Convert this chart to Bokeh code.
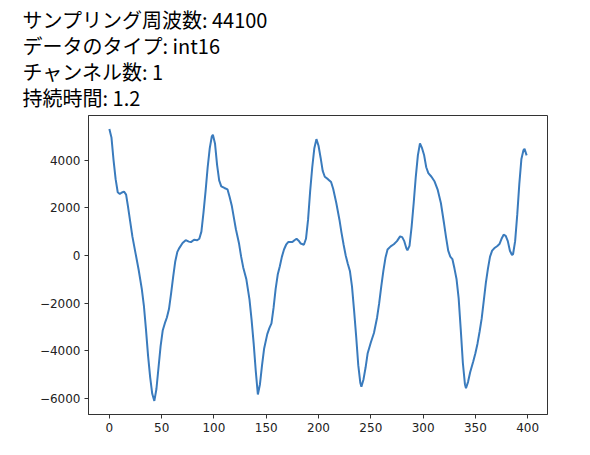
from bokeh.plotting import figure
from bokeh.models import Range1d, FixedTicker, Title
from bokeh.embed import file_html
from bokeh.resources import INLINE

# Waveform samples (sample index, amplitude)
sample_idx = [0, 2, 4, 6, 8, 10, 12, 14, 16, 18, 20, 22, 25, 28, 31, 33, 35, 37, 39, 41,
              43, 45, 47, 49, 51, 53, 55, 57, 59, 61, 63, 65, 67, 70, 73, 76, 78, 81, 84, 86,
              88, 90, 92, 94, 96, 98, 99, 101, 103, 105, 107, 110, 113, 115, 117, 119, 121, 124, 126, 128,
              131, 134, 136, 138, 140, 142, 144, 146, 148, 151, 153, 155, 157, 159, 161, 163, 165, 167, 169, 171,
              175, 177, 179, 181, 183, 186, 188, 190, 192, 194, 196, 198, 200, 202, 204, 206, 209, 212, 214, 217,
              220, 222, 224, 226, 228, 230, 232, 234, 236, 238, 240, 241, 243, 245, 247, 250, 253, 256, 258, 260,
              262, 264, 266, 269, 272, 275, 278, 280, 282, 284, 285, 287, 289, 291, 293, 295, 297, 299, 301, 303,
              305, 308, 311, 314, 317, 320, 322, 324, 326, 328, 330, 332, 334, 336, 338, 340, 341, 343, 345, 348,
              350, 352, 354, 356, 358, 360, 362, 364, 366, 368, 371, 373, 375, 377, 379, 381, 383, 385, 386, 388,
              390, 392, 394, 396, 397, 399]
amplitude = [5300, 4950, 4000, 3200, 2650, 2580, 2640, 2680, 2550, 2000, 1400, 800, 100, -600, -1400, -2100, -3100, -4200, -5100, -5800,
             -6100, -5600, -4700, -3800, -3150, -2850, -2600, -2250, -1600, -900, -250, 150, 320, 520, 640, 580, 560, 660, 640, 700,
             1000, 1800, 2700, 3700, 4500, 5000, 5060, 4700, 3800, 3150, 2900, 2830, 2770, 2450, 2100, 1600, 1100, 500, -50, -500,
             -1000, -1850, -2700, -3700, -4850, -5830, -5400, -4600, -3900, -3300, -3050, -2850, -2200, -1400, -800, -450, -50, 250, 450, 560,
             560, 640, 700, 620, 500, 450, 700, 1500, 2700, 3700, 4500, 4880, 4600, 4100, 3550, 3300, 3200, 3080, 2800, 2200,
             1500, 950, 450, 0, -350, -650, -1300, -2300, -3400, -4600, -5350, -5500, -5200, -4700, -4100, -3650, -3250, -2600, -2000, -1300,
             -650, -100, 250, 380, 470, 600, 800, 770, 600, 300, 220, 400, 1200, 2200, 3300, 4200, 4700, 4500, 4200, 3700,
             3450, 3300, 3100, 2750, 2200, 1350, 750, 200, -50, -150, -550, -1000, -1800, -3100, -4500, -5400, -5570, -5300, -4900, -4440,
             -4100, -3700, -3200, -2650, -1900, -1150, -550, -50, 200, 300, 400, 480, 700, 870, 820, 600, 200, 20, 50, 600,
             1700, 3000, 4050, 4420, 4470, 4200]

info_lines = ["サンプリング周波数: 44100", "データのタイプ: int16", "チャンネル数: 1", "持続時間: 1.2"]
x_ticks = [0, 50, 100, 150, 200, 250, 300, 350, 400]
y_ticks = [-6000, -4000, -2000, 0, 2000, 4000]

p = figure(width=574, height=439, output_backend="svg", toolbar_location=None,
           x_range=Range1d(-19.95, 418.95), y_range=Range1d(-6670, 5870),
           min_border_left=88, min_border_right=27, min_border_top=0, min_border_bottom=25)
p.title.visible = False

p.add_layout(Title(text="\n".join(info_lines), align="left", text_font="Noto Sans CJK JP",
                   text_font_size="20px", text_font_style="normal", text_color="black",
                   text_line_height=0.9, offset=-66, standoff=6), "above")

p.line(sample_idx, amplitude, line_color="#3a7bbd", line_width=2)

p.grid.visible = False
p.outline_line_color = "#333333"
p.outline_line_width = 1
for ax in (p.xaxis[0], p.yaxis[0]):
    ax.axis_line_color = "#333333"
    ax.major_tick_line_color = "#333333"
    ax.major_tick_out = 4
    ax.major_tick_in = 0
    ax.minor_tick_line_color = None
    ax.major_label_text_font = "DejaVu Sans"
    ax.major_label_text_font_size = "12px"
    ax.major_label_text_color = "#222222"
    ax.major_label_standoff = 4
p.xaxis[0].ticker = FixedTicker(ticks=x_ticks)
p.yaxis[0].ticker = FixedTicker(ticks=y_ticks)
p.yaxis[0].major_label_overrides = {v: (str(v).replace("-", "\u2212")) for v in y_ticks}

open("out.html", "w").write(file_html(p, INLINE))
